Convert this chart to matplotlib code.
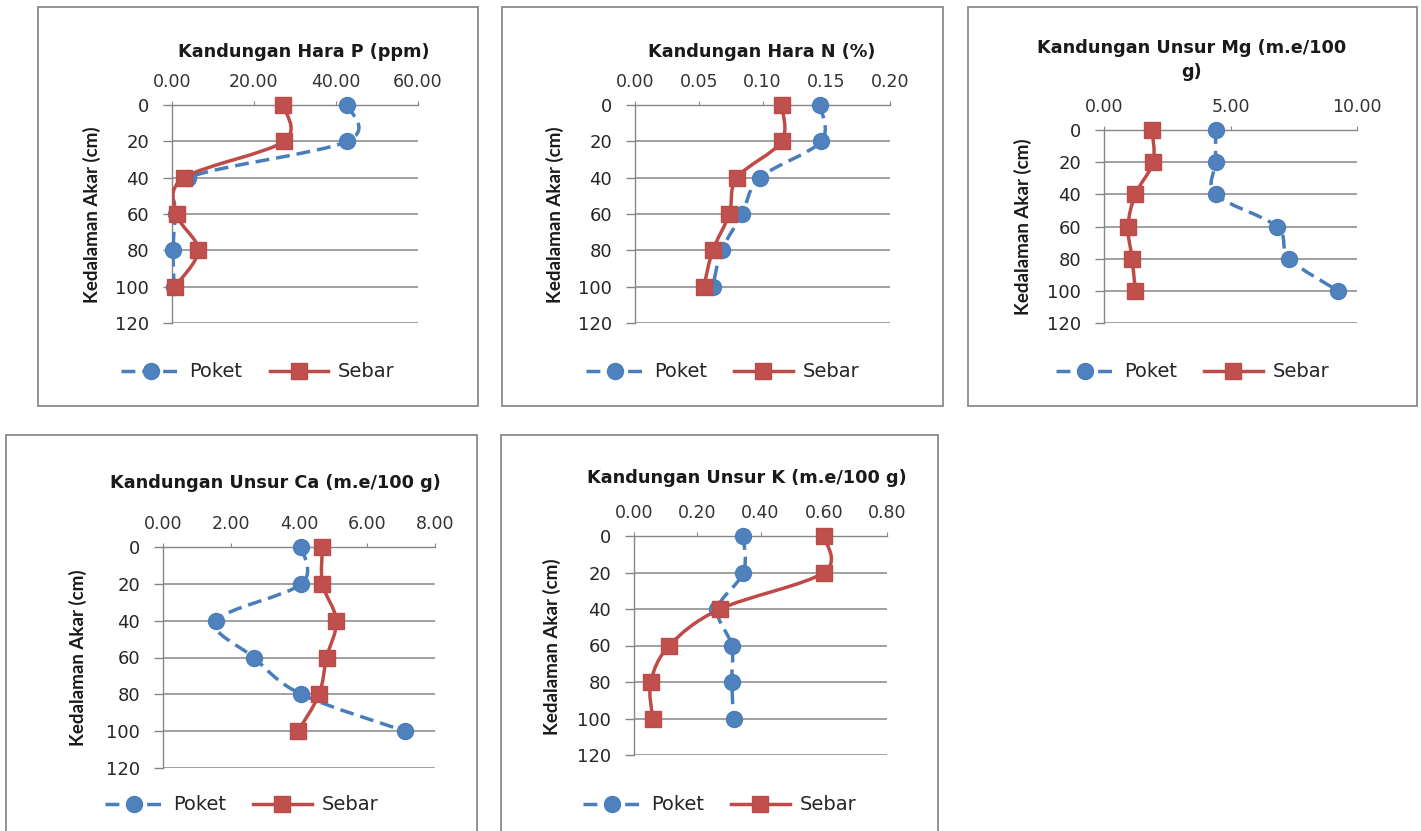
import numpy as np
import matplotlib.pyplot as plt
from matplotlib.path import Path
from matplotlib.patches import PathPatch, Rectangle
from matplotlib.lines import Line2D

plt.rcParams['font.family'] = ['DejaVu Sans']

# data
kedalaman = [0, 20, 40, 60, 80, 100]

p_poket = [42.8, 42.7, 4.0, 1.0, 0.3, 0.5]
p_sebar = [27.1, 27.3, 3.0, 1.1, 6.4, 0.7]

n_poket = [0.145, 0.146, 0.098, 0.084, 0.068, 0.061]
n_sebar = [0.115, 0.115, 0.080, 0.074, 0.061, 0.054]

mg_poket = [4.41, 4.41, 4.41, 6.83, 7.32, 9.25]
mg_sebar = [1.90, 1.94, 1.24, 0.95, 1.11, 1.24]

ca_poket = [4.07, 4.07, 1.57, 2.67, 4.07, 7.12]
ca_sebar = [4.69, 4.69, 5.10, 4.81, 4.59, 3.97]

k_poket = [0.346, 0.346, 0.264, 0.309, 0.309, 0.315]
k_sebar = [0.600, 0.600, 0.272, 0.112, 0.053, 0.059]

W, H = 1421, 831
BLUE, BLUE_E = '#4F81BD', '#4A7EBB'
RED, RED_E = '#C0504D', '#BE4B48'
GRID = '#868686'
DASH = (0, (4.0, 2.0))
LW = 2.5


def px_axes(fig, x0, y0, x1, y1):
    return fig.add_axes([x0 / W, 1 - y1 / H, (x1 - x0) / W, (y1 - y0) / H])


def smooth_path(x, y):
    # excel-style smoothed line (catmull-rom as cubic bezier)
    pts = np.column_stack([x, y]).astype(float)
    n = len(pts)
    verts = [pts[0]]
    codes = [Path.MOVETO]
    for i in range(n - 1):
        p0 = pts[i - 1] if i > 0 else pts[i]
        p1, p2 = pts[i], pts[i + 1]
        p3 = pts[i + 2] if i + 2 < n else pts[i + 1]
        verts += [p1 + (p2 - p0) / 6, p2 - (p3 - p1) / 6, p2]
        codes += [Path.CURVE4] * 3
    return Path(verts, codes)


def panel(fig, box, ax_px, title, title_xy, ylab_xy, leg_y,
          poket, sebar, xmax, xstep):
    bx0, by0, bx1, by1 = box
    fig.patches.append(Rectangle((bx0 / W, 1 - by1 / H), (bx1 - bx0) / W, (by1 - by0) / H,
                                 transform=fig.transFigure, fill=False,
                                 edgecolor='#8A8A8A', lw=1.3))
    ax = px_axes(fig, *ax_px)
    ax.set_xlim(0, xmax)
    ax.set_ylim(120, 0)
    xt = np.arange(0, xmax + xstep / 2, xstep)
    ax.set_xticks(xt)
    ax.set_xticklabels(['{:.2f}'.format(v) for v in xt])
    ax.set_yticks(range(0, 121, 20))
    ax.xaxis.tick_top()
    ax.tick_params(axis='x', direction='out', length=3, width=0.8, color=GRID,
                   pad=7, labelsize=12.5, labelcolor='#333333')
    ax.tick_params(axis='y', direction='out', length=6.5, width=1, color=GRID,
                   pad=10, labelsize=13, labelcolor='#262626')
    for s in ['right', 'bottom']:
        ax.spines[s].set_visible(False)
    for s in ['left', 'top']:
        ax.spines[s].set_color(GRID)
        ax.spines[s].set_linewidth(1)
    ax.grid(axis='y', color=GRID, lw=1.1)
    ax.set_axisbelow(True)

    ax.add_patch(PathPatch(smooth_path(poket, kedalaman), fill=False, edgecolor=BLUE_E,
                           lw=LW, linestyle=DASH, zorder=3))
    ax.plot(poket, kedalaman, ls='none', marker='o', ms=11.5, mfc=BLUE, mec=BLUE_E,
            zorder=4, clip_on=False)
    ax.add_patch(PathPatch(smooth_path(sebar, kedalaman), fill=False, edgecolor=RED_E,
                           lw=LW, zorder=5))
    ax.plot(sebar, kedalaman, ls='none', marker='s', ms=11.5, mfc=RED, mec=RED_E,
            zorder=6, clip_on=False)

    for i, line in enumerate(title.split('\n')):
        fig.text(title_xy[0] / W, 1 - (title_xy[1] + i * 24) / H, line, ha='center',
                 va='center', fontsize=12.7, fontweight='bold', color='#1a1a1a')
    fig.text(ylab_xy[0] / W, 1 - ylab_xy[1] / H, 'Kedalaman Akar (cm)', rotation=90,
             ha='center', va='center', fontsize=13.5, fontweight='bold', color='#1a1a1a',
             family='Lato')

    handles = [
        Line2D([], [], color=BLUE_E, lw=LW, ls=DASH, marker='o', ms=11.5, mfc=BLUE, mec=BLUE_E),
        Line2D([], [], color=RED_E, lw=LW, marker='s', ms=11.5, mfc=RED, mec=RED_E),
    ]
    fig.legend(handles, ['Poket', 'Sebar'], loc='center', ncol=2, frameon=False,
               bbox_to_anchor=((bx0 + bx1) / 2 / W, 1 - leg_y / H), fontsize=14,
               handlelength=3.0, handletextpad=0.5, columnspacing=1.4,
               labelcolor='#262626')
    return ax


fig = plt.figure(figsize=(W / 100, H / 100), dpi=100)

panel(fig, (38, 7, 478, 406), (172, 105, 418, 323), 'Kandungan Hara P (ppm)', (304, 52),
      (92, 215), 372, p_poket, p_sebar, 60, 20)
panel(fig, (502, 7, 943, 406), (635, 105, 890, 323), 'Kandungan Hara N (%)', (762, 52),
      (555, 215), 372, n_poket, n_sebar, 0.20, 0.05)
panel(fig, (968, 7, 1417, 406), (1104, 130, 1357, 323), 'Kandungan Unsur Mg (m.e/100\ng)',
      (1192, 48), (1023, 227), 372, mg_poket, mg_sebar, 10, 5)
panel(fig, (6, 435, 477, 900), (163, 547, 435, 768), 'Kandungan Unsur Ca (m.e/100 g)',
      (275, 483), (78, 658), 805, ca_poket, ca_sebar, 8, 2)
panel(fig, (501, 435, 938, 900), (634, 536, 887, 755), 'Kandungan Unsur K (m.e/100 g)',
      (747, 478), (552, 647), 805, k_poket, k_sebar, 0.8, 0.2)

plt.savefig('out.png', dpi=100)
plt.close()
